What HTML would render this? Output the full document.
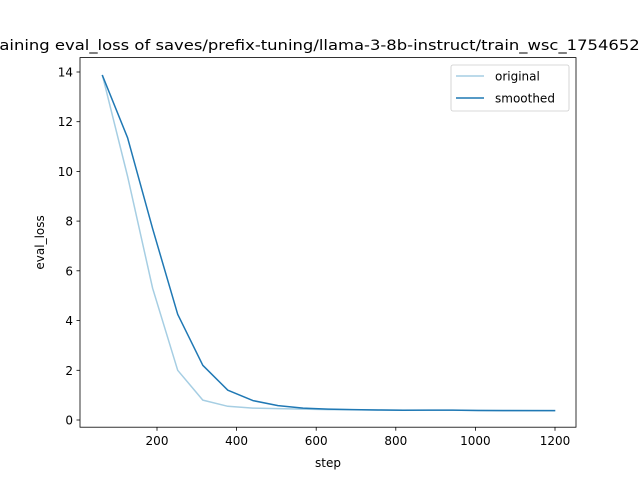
<!DOCTYPE html>
<html><head><meta charset="utf-8"><style>body{margin:0;background:#fff;overflow:hidden}svg{display:block}</style></head><body>
<svg width="640" height="480" xmlns="http://www.w3.org/2000/svg" font-family="'DejaVu Sans', 'Liberation Sans', sans-serif">
<rect width="640" height="480" fill="#fff"/>
<text x="328" y="50" font-size="14.4" text-anchor="middle" textLength="686" lengthAdjust="spacingAndGlyphs">Training eval_loss of saves/prefix-tuning/llama-3-8b-instruct/train_wsc_1754652184</text>
<g fill="none" stroke-linejoin="round" stroke-linecap="square" stroke-width="1.5">
<polyline stroke="#a6cee3" points="102.5,75.7 127.6,176.4 152.6,288.2 177.7,370.3 202.8,400.1 227.8,406.3 252.9,408.1 278,408.6 303,409.1 328,409.6 353,409.8 378,410 403,410.1 428,410.3 453,410.3 478,410.4 503,410.4 528,410.5 554.5,410.6"/>
<polyline stroke="#1f78b4" points="102.5,75.7 127.6,137.8 152.6,228.6 177.7,314.3 202.8,365.3 227.8,390.2 252.9,400.6 278,405.6 303,408.1 328,409.1 353,409.6 378,410 403,410.2 428,410.1 453,410.1 478,410.5 503,410.6 528,410.6 554.5,410.6"/>
</g>
<rect x="80" y="57.6" width="496" height="369.6" fill="none" stroke="#000" stroke-width="0.8"/>
<g stroke="#000" stroke-width="0.8">
<line x1="157" y1="427.2" x2="157" y2="430.7"/><line x1="236.6" y1="427.2" x2="236.6" y2="430.7"/><line x1="316.2" y1="427.2" x2="316.2" y2="430.7"/><line x1="395.8" y1="427.2" x2="395.8" y2="430.7"/><line x1="475.4" y1="427.2" x2="475.4" y2="430.7"/><line x1="555" y1="427.2" x2="555" y2="430.7"/>
<line x1="76.5" y1="420" x2="80" y2="420"/><line x1="76.5" y1="370.3" x2="80" y2="370.3"/><line x1="76.5" y1="320.6" x2="80" y2="320.6"/><line x1="76.5" y1="270.8" x2="80" y2="270.8"/><line x1="76.5" y1="221.1" x2="80" y2="221.1"/><line x1="76.5" y1="171.4" x2="80" y2="171.4"/><line x1="76.5" y1="121.7" x2="80" y2="121.7"/><line x1="76.5" y1="72" x2="80" y2="72"/>
</g>
<g font-size="12" text-anchor="middle">
<text x="157" y="445">200</text><text x="236.6" y="445">400</text><text x="316.2" y="445">600</text><text x="395.8" y="445">800</text><text x="475.4" y="445">1000</text><text x="555" y="445">1200</text>
<text x="328" y="467">step</text>
</g>
<g font-size="12" text-anchor="end">
<text x="73" y="424.5">0</text><text x="73" y="374.8">2</text><text x="73" y="325.1">4</text><text x="73" y="275.3">6</text><text x="73" y="225.6">8</text><text x="73" y="175.9">10</text><text x="73" y="126.2">12</text><text x="73" y="76.5">14</text>
</g>
<text font-size="12" text-anchor="middle" transform="translate(44,242.4) rotate(-90)">eval_loss</text>
<rect x="451" y="65" width="118" height="46" rx="2" fill="#fff" stroke="#ccc" stroke-width="0.8"/>
<line x1="456" y1="76" x2="484" y2="76" stroke="#a6cee3" stroke-width="1.5"/>
<text x="495" y="80.5" font-size="12">original</text>
<line x1="456" y1="98" x2="484" y2="98" stroke="#1f78b4" stroke-width="1.5"/>
<text x="495" y="102.5" font-size="12">smoothed</text>
</svg>
</body></html>
